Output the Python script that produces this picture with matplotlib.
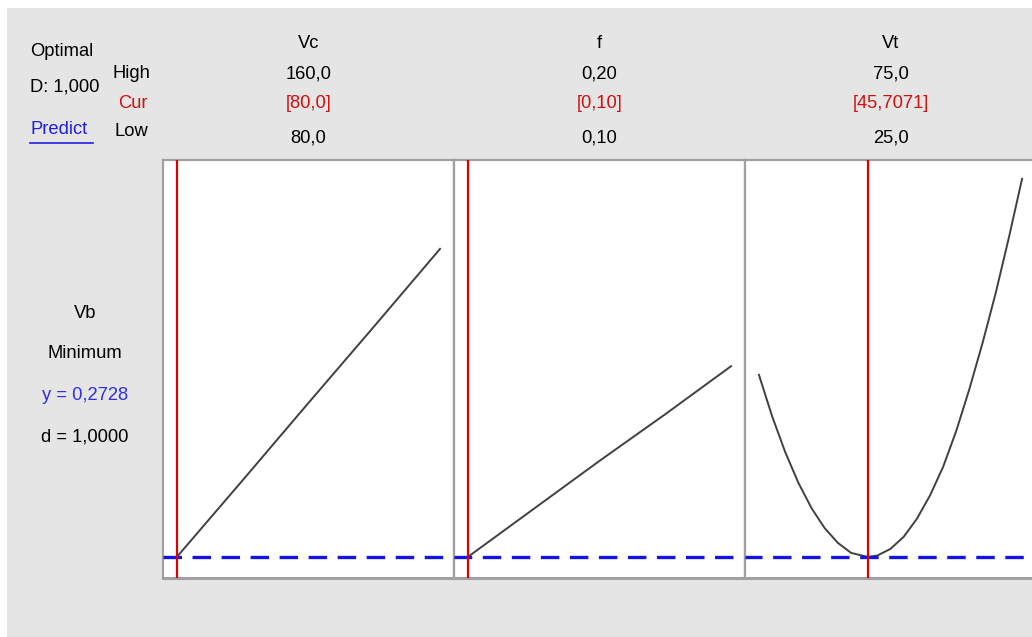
import numpy as np
import matplotlib
matplotlib.use('Agg')
import matplotlib.pyplot as plt
from matplotlib.patches import Rectangle

plt.rcParams['font.family'] = ['Liberation Sans', 'DejaVu Sans']
plt.rcParams['lines.scale_dashes'] = False

# factors and their settings
factors = ['Vc', 'f', 'Vt']
high_labels = ['160,0', '0,20', '75,0']
cur_labels = ['[80,0]', '[0,10]', '[45,7071]']
low_labels = ['80,0', '0,10', '25,0']
low_vals = [80.0, 0.10, 25.0]
high_vals = [160.0, 0.20, 75.0]
cur_vals = [80.0, 0.10, 45.7071]

# response Vb along each factor
vc_x = [80, 100, 120, 140, 160]
vc_y = [0.273, 0.388, 0.504, 0.619, 0.735]
f_x = [0.10, 0.125, 0.15, 0.175, 0.20]
f_y = [0.273, 0.345, 0.417, 0.487, 0.559]
vt_x = [25, 27.5, 30, 32.5, 35, 37.5, 40, 42.5, 45.7071, 47.5, 50, 52.5, 55,
        57.5, 60, 62.5, 65, 67.5, 70, 72.5, 75]
vt_y = [0.546, 0.484, 0.430, 0.384, 0.346, 0.316, 0.294, 0.279, 0.2728, 0.275,
        0.285, 0.303, 0.330, 0.365, 0.408, 0.462, 0.525, 0.594, 0.669, 0.752, 0.840]
curves = [(vc_x, vc_y), (f_x, f_y), (vt_x, vt_y)]

y_opt = 0.2728
ylim = (0.2413, 0.8683)

W, H = 1032, 637
fig = plt.figure(figsize=(W / 100, H / 100), dpi=100)
fig.patch.set_facecolor('white')
fig.add_artist(Rectangle((7 / W, 0), 1, (H - 8) / H, transform=fig.transFigure,
                         facecolor='#e5e5e5', edgecolor='none', zorder=-10))

frame = '#a0a0a0'
panel_left, panel_w = 163, 291
top_px, bot_px = 160, 578
fs = 13.2

def ftext(x, y, s, **kw):
    # place text by pixel position measured on the reference
    return fig.text(x / W, 1 - (y + 2) / H, s, va='center', fontsize=fs, **kw)

for i in range(3):
    x0 = panel_left + i * panel_w
    ax = fig.add_axes([x0 / W, (H - bot_px) / H, panel_w / W, (bot_px - top_px) / H])
    ax.set_facecolor('white')
    lo, hi = low_vals[i], high_vals[i]
    pad = (hi - lo) * 0.053
    ax.set_xlim(lo - pad, hi + pad)
    ax.set_ylim(*ylim)
    ax.set_xticks([])
    ax.set_yticks([])
    for s in ax.spines.values():
        s.set_color(frame)
        s.set_linewidth(1.6)
    ax.spines['bottom'].set_linewidth(2.2)
    cx, cy = curves[i]
    ax.plot(cx, cy, color='#404040', lw=1.4, zorder=3)
    ax.axhline(y_opt, color='#1414e6', lw=2.4,
               linestyle=((x0 - panel_left) * 0.72, (13.3, 7.6)), zorder=4)
    ax.axvline(cur_vals[i], color='#dd0000', lw=1.6, zorder=5)

    xc = x0 + panel_w / 2
    ftext(xc, 42, factors[i], ha='center')
    ftext(xc, 72, high_labels[i], ha='center')
    ftext(xc, 101, cur_labels[i], ha='center', color='#cc1111')
    ftext(xc, 136, low_labels[i], ha='center')

# left header
ftext(30, 50, 'Optimal', ha='left')
ftext(30, 85, 'D: 1,000', ha='left')
ftext(30, 128, 'Predict', ha='left', color='#2020dd')
fig.add_artist(plt.Line2D([30 / W, 93 / W], [1 - 143 / H, 1 - 143 / H], transform=fig.transFigure,
                          color='#2020dd', lw=1.2))
ftext(113, 71, 'High', ha='left')
ftext(118, 101, 'Cur', ha='left', color='#cc1111')
ftext(114, 130, 'Low', ha='left')

# response block
ftext(85, 312, 'Vb', ha='center')
ftext(85, 352, 'Minimum', ha='center')
ftext(85, 394, 'y = 0,2728', ha='center', color='#3030e0')
ftext(85, 435, 'd = 1,0000', ha='center')

fig.savefig('out.png', dpi=100)
